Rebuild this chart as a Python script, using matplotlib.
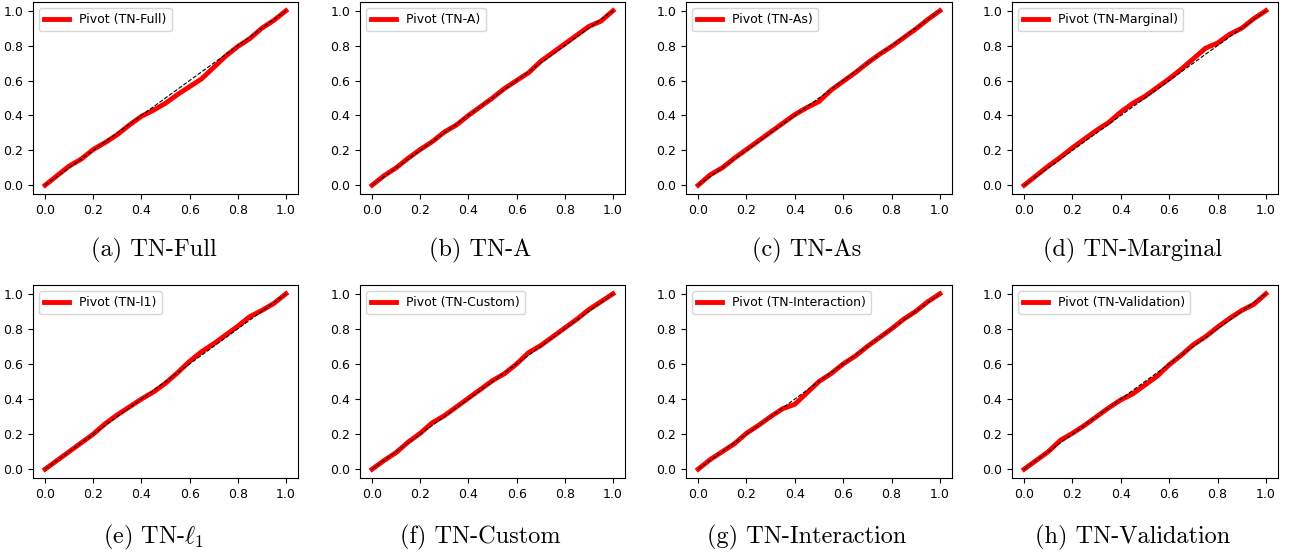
import matplotlib
matplotlib.use("Agg")
import matplotlib.pyplot as plt
import numpy as np

plt.rcParams['mathtext.fontset'] = 'cm'
plt.rcParams['axes.unicode_minus'] = False

x_grid = [0.0, 0.05, 0.1, 0.15, 0.2, 0.25, 0.3, 0.35, 0.4, 0.45, 0.5,
          0.55, 0.6, 0.65, 0.7, 0.75, 0.8, 0.85, 0.9, 0.95, 1.0]

y_full = [0, 0.055, 0.11, 0.15, 0.205, 0.245, 0.29, 0.345, 0.395, 0.43, 0.47,
          0.52, 0.565, 0.61, 0.675, 0.74, 0.795, 0.84, 0.9, 0.945, 1.0]
y_a = [0, 0.055, 0.10, 0.155, 0.205, 0.25, 0.305, 0.345, 0.40, 0.45, 0.50,
       0.555, 0.60, 0.645, 0.71, 0.76, 0.81, 0.86, 0.91, 0.94, 1.0]
y_as = [0, 0.06, 0.10, 0.155, 0.205, 0.255, 0.305, 0.355, 0.405, 0.445, 0.48,
        0.545, 0.595, 0.645, 0.70, 0.75, 0.795, 0.845, 0.895, 0.95, 1.0]
y_marginal = [0, 0.055, 0.11, 0.16, 0.215, 0.265, 0.315, 0.36, 0.42, 0.47, 0.51,
              0.56, 0.61, 0.665, 0.725, 0.785, 0.815, 0.865, 0.90, 0.955, 1.0]
y_l1 = [0, 0.05, 0.10, 0.15, 0.20, 0.26, 0.31, 0.355, 0.40, 0.44, 0.49,
        0.55, 0.615, 0.67, 0.715, 0.765, 0.815, 0.87, 0.905, 0.945, 1.0]
y_custom = [0, 0.05, 0.095, 0.155, 0.205, 0.265, 0.305, 0.355, 0.405, 0.455, 0.505,
            0.545, 0.60, 0.665, 0.705, 0.755, 0.805, 0.855, 0.91, 0.955, 1.0]
y_interaction = [0, 0.055, 0.10, 0.145, 0.205, 0.25, 0.30, 0.345, 0.37, 0.435, 0.50,
                 0.545, 0.60, 0.645, 0.70, 0.75, 0.80, 0.855, 0.90, 0.955, 1.0]
y_validation = [0, 0.05, 0.10, 0.165, 0.205, 0.25, 0.30, 0.35, 0.395, 0.43, 0.48,
                0.53, 0.595, 0.65, 0.71, 0.755, 0.81, 0.86, 0.905, 0.94, 1.0]

series = [y_full, y_a, y_as, y_marginal, y_l1, y_custom, y_interaction, y_validation]
legend_labels = ["Pivot (TN-Full)", "Pivot (TN-A)", "Pivot (TN-As)", "Pivot (TN-Marginal)",
                 "Pivot (TN-l1)", "Pivot (TN-Custom)", "Pivot (TN-Interaction)",
                 "Pivot (TN-Validation)"]
captions = ["(a) TN-Full", "(b) TN-A", "(c) TN-As", "(d) TN-Marginal",
            r"(e) TN-$\ell_1$", "(f) TN-Custom", "(g) TN-Interaction", "(h) TN-Validation"]

W, H = 1289, 552
fig = plt.figure(figsize=(W / 100, H / 100), dpi=100)

lefts = [33, 360, 686, 1012]
widths = [265, 265, 266, 266]
tops = [2, 285]
heights = [192, 193]
cap_y = [250, 537]

for i in range(8):
    r, c = divmod(i, 4)
    l = lefts[c]
    w = widths[c]
    t = tops[r]
    h = heights[r]
    ax = fig.add_axes([l / W, 1 - (t + h) / H, w / W, h / H])
    ax.plot(x_grid, series[i], color='red', lw=3.5, label=legend_labels[i])
    ax.plot([0, 1], [0, 1], 'k--', lw=0.8)
    ax.set_xticks([0, 0.2, 0.4, 0.6, 0.8, 1.0])
    ax.set_yticks([0, 0.2, 0.4, 0.6, 0.8, 1.0])
    ax.tick_params(labelsize=9, length=3.5, width=0.8)
    ax.legend(loc='upper left', fontsize=9, handlelength=2.0)
    cx = (l + w / 2 - 12) / W
    fig.text(cx, 1 - cap_y[r] / H, captions[i], ha='center', va='center',
             fontsize=17.5, family='cmr10')

fig.savefig("out.png", dpi=100)
